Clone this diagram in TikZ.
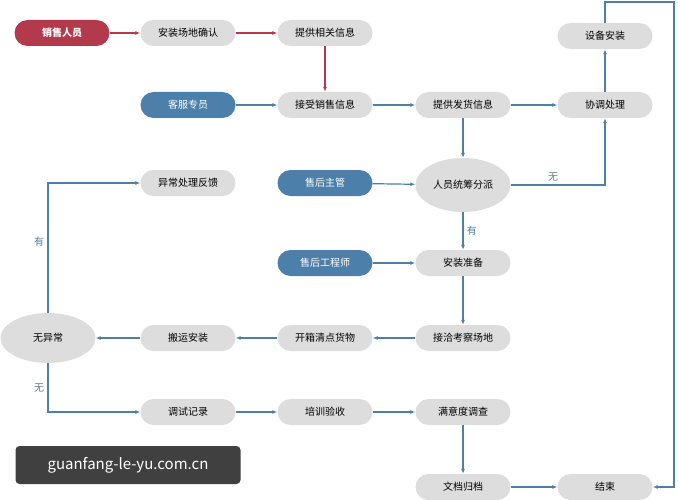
\documentclass[tikz,border=0pt]{standalone}
\usepackage{fontspec}
\setmainfont{Noto Sans CJK SC}
\usetikzlibrary{shapes.geometric, arrows.meta, positioning}
\definecolor{salesred}{HTML}{B33A4C}
\definecolor{staffblue}{HTML}{4C80AA}
\definecolor{linkblue}{HTML}{4E7FA6}
\definecolor{boxgray}{HTML}{DDDDDD}

\begin{document}
\begin{tikzpicture}[
    x=1pt, y=-1pt,
    font=\fontsize{10}{12}\selectfont,
    stage/.style={rectangle, rounded corners=13pt, fill=boxgray, minimum width=95pt, minimum height=26pt, inner sep=0pt},
    role/.style={stage, fill=staffblue, text=white},
    oval/.style={ellipse, fill=boxgray, minimum width=95pt, minimum height=54pt, inner sep=0pt},
    arrow/.style={-{Latex[length=5pt,width=4pt]}, linkblue, line width=1.2pt},
    redarrow/.style={arrow, salesred}
]
\useasboundingbox (0,0) rectangle (680,500);

% Nodes
\node (sales) at (62,33) [role, fill=salesred, font=\fontsize{10}{12}\selectfont\bfseries] {销售人员};
\node (site) at (188,33) [stage] {安装场地确认};
\node (info) at (325,33) [stage] {提供相关信息};
\node (service) at (188,105) [role] {客服专员};
\node (receive) at (325,105) [stage] {接受销售信息};
\node (ship) at (463,105) [stage] {提供发货信息};
\node (coord) at (605,105) [stage] {协调处理};
\node (install) at (605,36) [stage] {设备安装};
\node (manager) at (325,183) [role] {售后主管};
\node (assign) at (463,185) [oval] {人员统筹分派};
\node (feedback) at (188,183) [stage] {异常处理反馈};
\node (engineer) at (325,263) [role] {售后工程师};
\node (prepare) at (463,263) [stage] {安装准备};
\node (survey) at (463,338) [stage] {接洽考察场地};
\node (unpack) at (325,338) [stage] {开箱清点货物};
\node (carry) at (188,338) [stage] {搬运安装};
\node (check) at (48,338) [oval, minimum height=50pt] {无异常};
\node (debug) at (188,412) [stage] {调试记录};
\node (train) at (325,412) [stage] {培训验收};
\node (satisfy) at (463,412) [stage] {满意度调查};
\node (archive) at (463,487) [stage] {文档归档};
\node (finish) at (605,487) [stage] {结束};

% Watermark
\node (mark) at (128,465) [rectangle, rounded corners=4pt, fill=black!75, text=white, minimum width=225pt, minimum height=38pt, font=\fontsize{15}{18}\selectfont] {guanfang-le-yu.com.cn};

% Connections
\draw [redarrow] (sales) -- (site);
\draw [redarrow] (site) -- (info);
\draw [redarrow] (info) -- (receive);
\draw [arrow] (service) -- (receive);
\draw [arrow] (receive) -- (ship);
\draw [arrow] (ship) -- (coord);
\draw [arrow] (coord) -- (install);
\draw [arrow] (ship) -- (assign);
\draw [arrow] (manager) -- (assign);
\draw [arrow] (assign.east) -- (605,185) node [pos=0.45, above] {无} -- (coord);
\draw [arrow] (assign) -- (prepare) node [midway, right] {有};
\draw [arrow] (engineer) -- (prepare);
\draw [arrow] (prepare) -- (survey);
\draw [arrow] (survey) -- (unpack);
\draw [arrow] (unpack) -- (carry);
\draw [arrow] (carry) -- (check);
\draw [arrow] (check) -- (48,183) node [pos=0.55, left] {有} -- (feedback);
\draw [arrow] (check) -- (48,412) node [pos=0.5, left] {无} -- (debug);
\draw [arrow] (debug) -- (train);
\draw [arrow] (train) -- (satisfy);
\draw [arrow] (satisfy) -- (archive);
\draw [arrow] (archive) -- (finish);
\draw [arrow] (install) -- (605,2) -- (674,2) -- (674,487) -- (finish);

\end{tikzpicture}
\end{document}
